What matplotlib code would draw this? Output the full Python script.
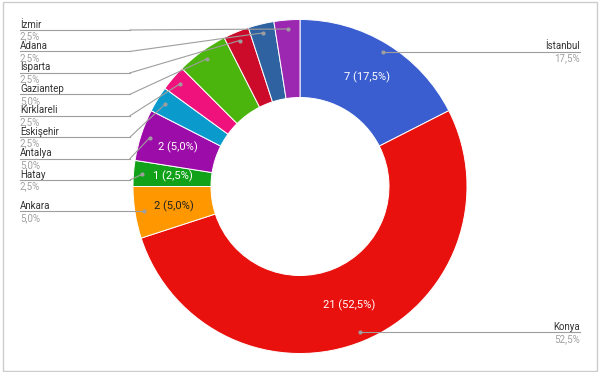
import numpy as np
import matplotlib.pyplot as plt
from matplotlib.patches import Rectangle

plt.rcParams['font.family'] = ['Roboto', 'DejaVu Sans']

# Veriler (saat yönünde, tepeden başlayarak)
sehirler = ['İstanbul', 'Konya', 'Ankara', 'Hatay', 'Antalya', 'Eskişehir',
            'Kırklareli', 'Gaziantep', 'Isparta', 'Adana', 'İzmir']
adet = [7, 21, 2, 1, 2, 1, 1, 2, 1, 1, 1]
renkler = ['#3a5ed0', '#e8110e', '#ff9800', '#12a21a', '#9c0ca8', '#0a9bcc',
           '#f0127c', '#4bb50d', '#cc0a2a', '#2e62a0', '#9c27b0']
ic_etiket = ['İstanbul', 'Konya', 'Ankara', 'Hatay', 'Antalya']
sol_sira = ['İzmir', 'Adana', 'Isparta', 'Gaziantep', 'Kırklareli',
            'Eskişehir', 'Antalya', 'Hatay']

W, H = 600, 372
fig = plt.figure(figsize=(6, 3.72), dpi=100)
ax = fig.add_axes([0, 0, 1, 1])

cx, cy = 300, H - 186.5
R, halka = 167, 78

ax.pie(adet, colors=renkler, startangle=90, counterclock=False,
       center=(cx, cy), radius=R, frame=True,
       wedgeprops=dict(width=halka, edgecolor='white', linewidth=0.7))
ax.set_xlim(0, W)
ax.set_ylim(0, H)
ax.set_aspect('equal')
ax.axis('off')

toplam = sum(adet)
kum = np.cumsum([0] + adet)
yuzde = {}
nokta = {}
for i, s in enumerate(sehirler):
    orta = (kum[i] + kum[i + 1]) / 2 / toplam * 2 * np.pi
    p = adet[i] / toplam * 100
    yuzde[s] = f'{p:.1f}%'.replace('.', ',')
    # dilim içi etiket
    if s in ic_etiket:
        r = R - halka / 2
        renk = '#222222' if s == 'Ankara' else 'white'
        ax.text(cx + r * np.sin(orta), cy + r * np.cos(orta),
                f'{adet[i]} ({yuzde[s]})', color=renk, fontsize=8,
                ha='center', va='center')
    nokta[s] = (cx + 158 * np.sin(orta), cy + 158 * np.cos(orta))

cizgi = '#9e9e9e'
def etiket(ad, y, x0, x1, sag=False):
    ax.plot([x0, x1], [y, y], color=cizgi, lw=0.8)
    xt = x1 if sag else x0
    ha = 'right' if sag else 'left'
    ax.text(xt, y + 2.5, ad, fontsize=7, color='#333333', ha=ha, va='baseline')
    ax.text(xt, y - 9.5, yuzde[ad], fontsize=7, color='#a0a0a0', ha=ha,
            va='baseline')

# sol taraftaki etiketler
for j, s in enumerate(sol_sira):
    y = H - (30 + 21.43 * j)
    px, py = nokta[s]
    etiket(s, y, 20, 130)
    ax.plot([130, px], [y, py], color=cizgi, lw=0.8)
    ax.plot(px, py, 'o', color=cizgi, ms=2)

# Ankara
px, py = nokta['Ankara']
etiket('Ankara', py, 20, px)
ax.plot(px, py, 'o', color=cizgi, ms=2)

# sağ taraf
for s in ['İstanbul', 'Konya']:
    px, py = nokta[s]
    etiket(s, py, px, 580, sag=True)
    ax.plot(px, py, 'o', color=cizgi, ms=2)

ax.add_patch(Rectangle((2.5, 1.5), 594.5, 369, fill=False,
                       edgecolor='#cccccc', lw=1))

fig.savefig('out.png', dpi=100)
